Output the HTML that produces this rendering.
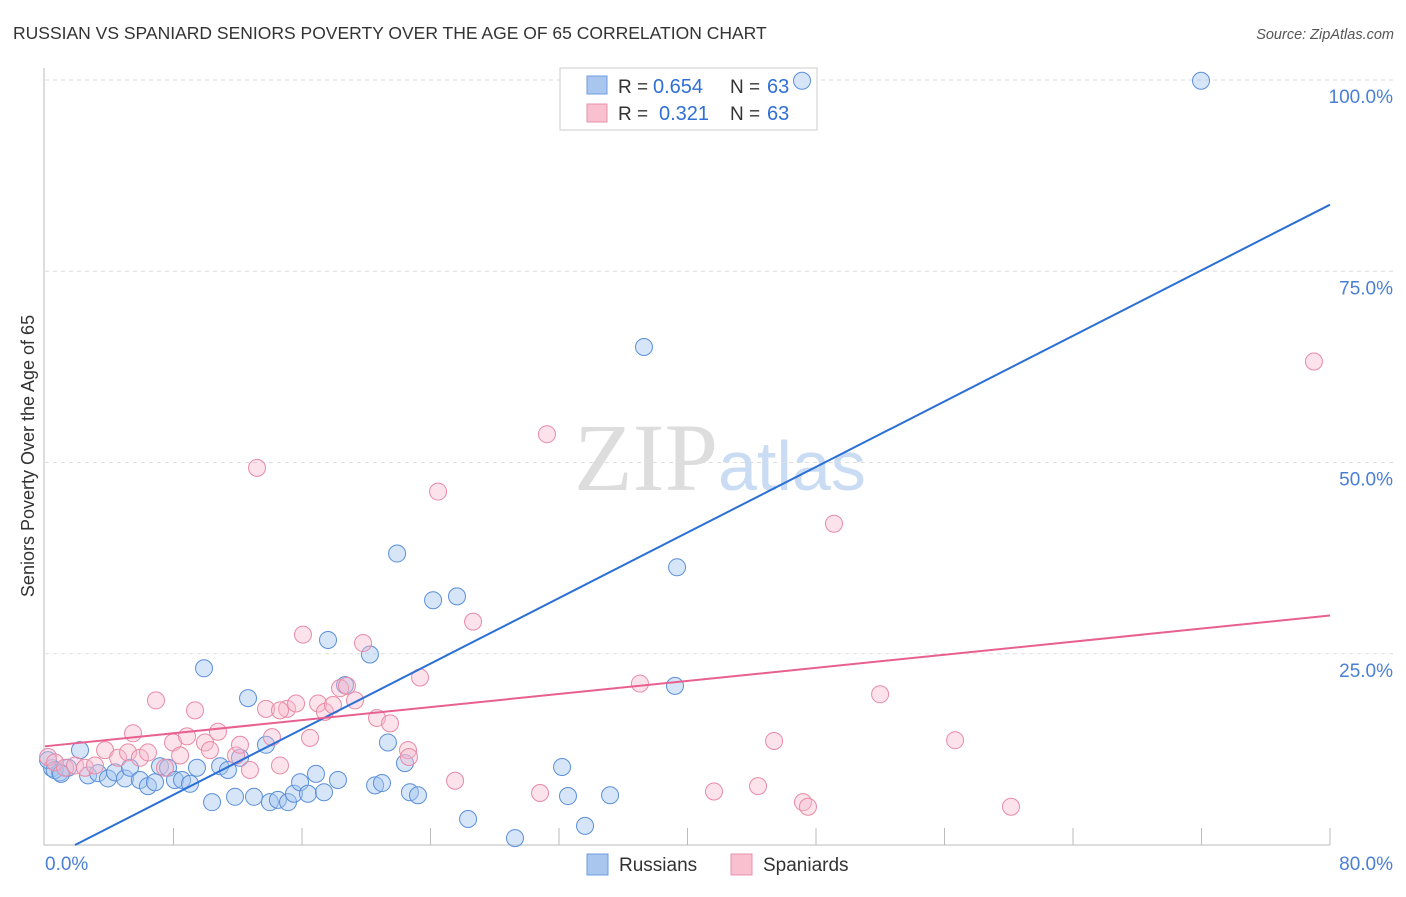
<!DOCTYPE html>
<html><head><meta charset="utf-8"><style>
body{margin:0;background:#fff;font-family:"Liberation Sans",sans-serif}
svg text{font-family:"Liberation Sans",sans-serif}
</style></head><body>
<svg id="c" width="1406" height="892">
<text x="13" y="39" font-size="17.5" fill="#333">RUSSIAN VS SPANIARD SENIORS POVERTY OVER THE AGE OF 65 CORRELATION CHART</text>
<text x="1394" y="39" font-size="14.5" fill="#555" font-style="italic" text-anchor="end">Source: ZipAtlas.com</text>
<text x="718" y="490" font-size="96" fill="#ddd" text-anchor="end" style="font-family:'Liberation Serif',serif">ZIP</text>
<text x="718" y="490" font-size="70" fill="#c9dcf3">atlas</text>
<text transform="translate(34,456) rotate(-90)" font-size="18" fill="#333" text-anchor="middle">Seniors Poverty Over the Age of 65</text>
<g id="grid"></g>
<g>
<rect x="560" y="68" width="257" height="62" fill="#fff" stroke="#ccc"/>
<rect x="587" y="76" width="20" height="18" fill="#a9c6ef" stroke="#6d9ce0"/>
<rect x="587" y="104" width="20" height="18" fill="#f9c0d0" stroke="#e891ab"/>
<text x="618" y="93" font-size="19" fill="#333">R =</text><text x="653" y="93" font-size="20" fill="#2f6fd6">0.654</text>
<text x="730" y="93" font-size="19" fill="#333">N =</text><text x="767" y="93" font-size="20" fill="#2f6fd6">63</text>
<text x="618" y="120" font-size="19" fill="#333">R =</text><text x="659" y="120" font-size="20" fill="#2f6fd6">0.321</text>
<text x="730" y="120" font-size="19" fill="#333">N =</text><text x="767" y="120" font-size="20" fill="#2f6fd6">63</text>
</g>
<g id="marks"></g><g id="lines"></g>
<g>
<rect x="587" y="854" width="21" height="21" fill="#a9c6ef" stroke="#6d9ce0"/>
<text x="619" y="871" font-size="19" fill="#333">Russians</text>
<rect x="731" y="854" width="21" height="21" fill="#f9c0d0" stroke="#e891ab"/>
<text x="763" y="871" font-size="19" fill="#333">Spaniards</text>
</g>
</svg>
<script>
const xTicks=[0,80];
const yTicks=[25,50,75,100];
const rusX=[.44,.93,1.43,2.18,2.68,3.3,3.92,4.36,4.98,5.29,5.91,6.41,6.85,7.16,7.66,8.09,8.53,9.03,9.46,9.9,10.4,10.9,11.39,11.83,12.14,12.64,13.01,13.76,14.0,14.5,15.13,15.5,15.88,16.37,16.87,17.37,17.62,18.24,18.68,20.23,20.55,20.98,21.35,21.92,22.41,22.72,23.22,24.16,25.65,26.34,29.26,32.19,32.56,33.62,35.18,37.29,39.22,39.35,47.13,71.97,.19,.6,1.0];
const rusY=[10.05,9.5,10.1,12.4,9.1,9.4,8.7,9.5,8.7,10.1,8.5,7.7,8.2,10.3,10.1,8.5,8.5,8.0,10.1,23.1,5.6,10.3,9.8,6.3,11.4,19.2,6.3,13.1,5.6,5.9,5.6,6.7,8.2,6.7,9.3,6.9,26.8,8.5,20.9,24.9,7.8,8.1,13.4,38.1,10.7,6.9,6.5,32.0,32.5,3.4,0.9,10.2,6.4,2.5,6.5,65.1,20.8,36.3,99.9,99.9,11.1,9.8,9.3];
const spaX=[.19,.62,1.25,1.87,2.49,3.11,3.74,4.55,5.17,5.48,5.91,6.41,6.91,7.47,7.97,8.41,8.84,9.34,9.96,10.27,10.77,11.89,12.14,12.76,13.2,13.76,14.13,14.63,15.07,15.63,16.06,16.5,17.0,17.43,17.93,18.37,18.8,19.3,19.8,20.67,21.48,22.6,23.35,24.47,25.53,26.65,30.82,31.25,37.04,41.65,44.39,45.39,47.19,47.5,49.12,51.99,56.66,60.14,79.0,22.66,14.63];
const spaY=[11.5,10.8,10.1,10.4,10.1,10.4,12.4,11.4,12.1,14.6,11.4,12.1,18.9,10.1,13.4,11.7,14.2,17.6,13.4,12.4,14.8,11.7,13.1,9.8,49.3,17.8,14.1,10.4,17.8,18.5,27.5,14.0,18.5,17.4,18.3,20.5,20.8,18.9,26.4,16.6,15.9,12.4,21.9,46.2,8.4,29.2,6.8,53.7,21.1,7.0,7.7,13.6,5.6,5.0,42.0,19.7,13.7,5.0,63.2,11.5,17.6];
const trendRus=[-2.0,83.7];
const trendSpa=[12.9,30.0];
const L=45,R=1330,T=80,B=845;
const X=v=>L+v/80*(R-L), Y=v=>B-v/100*(B-T);
const NS="http://www.w3.org/2000/svg";
function mk(p,t,a){const e=document.createElementNS(NS,t);for(const k in a)e.setAttribute(k,a[k]);p.appendChild(e);return e;}
const g=document.getElementById('grid');
yTicks.forEach(v=>{
 const l=mk(g,'line',{x1:L,x2:1395,y1:Y(v),y2:Y(v),stroke:'#ddd','stroke-dasharray':'4,4'});
 
 
 const t=mk(g,'text',{x:1393,y:Y(v)+23,'font-size':19,fill:'#4a7fd6','text-anchor':'end'});
 t.textContent=v.toFixed(1)+'%';
 
 
});
const ax=mk(g,'line',{x1:44,x2:44,y1:68,y2:B,stroke:'#bbb'});


const bx=mk(g,'line',{x1:44,x2:R,y1:B,y2:B,stroke:'#bbb'});


for(let i=1;i<=10;i++){const x=X(i*8);
 const tk=mk(g,'line',{x1:x,x2:x,y1:828,y2:B,stroke:'#bbb'});
 
 }
xTicks.forEach((v,i)=>{
 const t=mk(g,'text',{x:i?1393:45,y:870,'font-size':19,fill:'#4a7fd6','text-anchor':i?'end':'start'});
 t.textContent=v.toFixed(1)+'%';
 
 
});
const m=document.getElementById('marks');
rusX.forEach((v,i)=>{
 const c=mk(m,'circle',{cx:X(v),cy:Y(rusY[i]),r:8.5,fill:'rgba(165,198,240,0.45)',stroke:'#5b8fd9','stroke-width':1});
 
 
});
spaX.forEach((v,i)=>{
 const c=mk(m,'circle',{cx:X(v),cy:Y(spaY[i]),r:8.5,fill:'rgba(248,185,205,0.4)',stroke:'#e88aa6','stroke-width':1});
 
 
});
const ln=document.getElementById('lines');
const x0=-trendRus[0]/(trendRus[1]-trendRus[0])*80;
const lr=mk(ln,'line',{x1:X(x0),y1:Y(0),x2:X(80),y2:Y(trendRus[1]),stroke:'#2a6fd6','stroke-width':2});


const ls=mk(ln,'line',{x1:X(0),y1:Y(trendSpa[0]),x2:X(80),y2:Y(trendSpa[1]),stroke:'#e8608f','stroke-width':2});


</script>
</body></html>
